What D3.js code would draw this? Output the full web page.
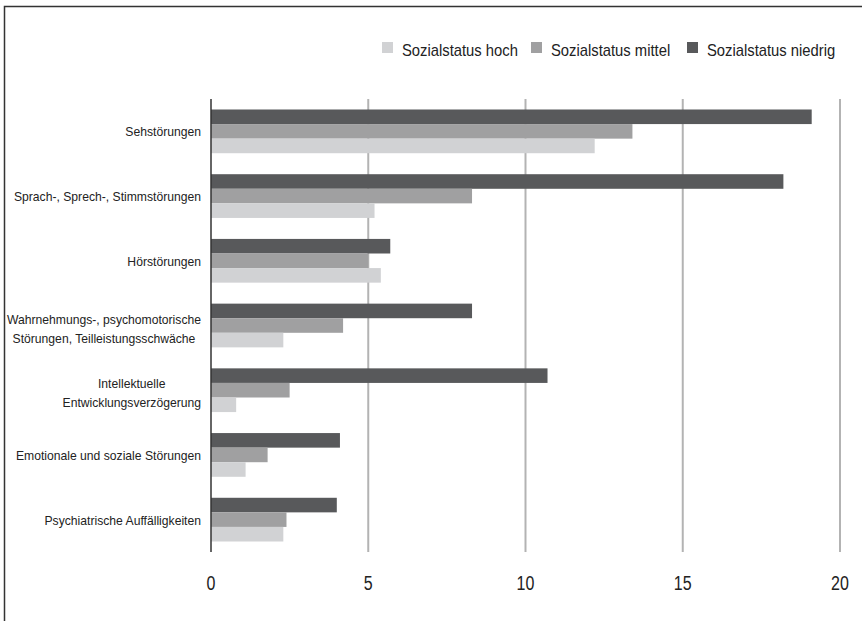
<!DOCTYPE html>
<html>
<head>
<meta charset="utf-8">
<script src="https://cdn.jsdelivr.net/npm/d3@7"></script>
<style>
body { margin: 0; background: #fff; }
text { font-family: "Liberation Sans", Arial, sans-serif; fill: #222; }
</style>
</head>
<body>
<script>
// Werte (Prozent)
var categories = [
    ["Sehstörungen"],
    ["Sprach-, Sprech-, Stimmstörungen"],
    ["Hörstörungen"],
    ["Wahrnehmungs-, psychomotorische", "Störungen, Teilleistungsschwäche"],
    ["Intellektuelle", "Entwicklungsverzögerung"],
    ["Emotionale und soziale Störungen"],
    ["Psychiatrische Auffälligkeiten"]
];
var series = ["Sozialstatus niedrig", "Sozialstatus mittel", "Sozialstatus hoch"];
var niedrig = [19.1, 18.2, 5.7, 8.3, 10.7, 4.1, 4.0];
var mittel  = [13.4, 8.3, 5.0, 4.2, 2.5, 1.8, 2.4];
var hoch    = [12.2, 5.2, 5.4, 2.3, 0.8, 1.1, 2.3];
var ticks = [0, 5, 10, 15, 20];
var legendOrder = ["Sozialstatus hoch", "Sozialstatus mittel", "Sozialstatus niedrig"];

var width = 862, height = 621;
var svg = d3.select("body").append("svg")
    .attr("width", width)
    .attr("height", height);

// schmale Schrift nachbilden: Text horizontal stauchen
function narrow(sel, f) {
    sel.each(function(){
        var w = this.getComputedTextLength();
        d3.select(this).attr("textLength", w * f).attr("lengthAdjust", "spacingAndGlyphs");
    });
}

var colors = d3.scaleOrdinal()
    .domain(series)
    .range(["#58595b", "#a0a0a1", "#d1d2d4"]);

var x = d3.scaleLinear().domain([0, 20]).range([211, 840]);
var y = d3.scaleBand().domain(d3.range(categories.length)).range([99, 552]);
var inner = d3.scaleBand().domain(series).range([0, y.bandwidth()]).paddingOuter(0.72).paddingInner(0);

// Rahmen (links und oben)
svg.append("path")
    .attr("d", "M4.5,621V6.5H862")
    .style("fill", "none")
    .style("stroke", "#333")
    .style("stroke-width", 1.5);

// Gitterlinien
svg.selectAll("line.grid")
    .data(ticks.slice(1))
    .enter()
    .append("line")
    .attr("class", "grid")
    .attr("x1", function(d){ return x(d); })
    .attr("x2", function(d){ return x(d); })
    .attr("y1", 99)
    .attr("y2", 552)
    .style("stroke", "#b3b3b3")
    .style("stroke-width", 2);

var table = categories.map(function(c, i) {
    return { i: i, values: [niedrig[i], mittel[i], hoch[i]] };
});

var groups = svg.selectAll("g.cat")
    .data(table)
    .enter()
    .append("g")
    .attr("class", "cat")
    .attr("transform", function(d){ return "translate(0," + y(d.i) + ")"; });

groups.selectAll("rect")
    .data(function(d){ return d.values.map(function(v, k){ return { s: series[k], v: v }; }); })
    .enter()
    .append("rect")
    .attr("x", x(0))
    .attr("y", function(d){ return inner(d.s); })
    .attr("width", function(d){ return x(d.v) - x(0); })
    .attr("height", inner.bandwidth())
    .style("fill", function(d){ return colors(d.s); });

// Null-Achse
svg.append("line")
    .attr("x1", x(0)).attr("x2", x(0))
    .attr("y1", 99).attr("y2", 552)
    .style("stroke", "#333")
    .style("stroke-width", 1.5);

// Achsenbeschriftung
var tickText = svg.selectAll("text.tick")
    .data(ticks)
    .enter()
    .append("text")
    .attr("class", "tick")
    .attr("x", function(d){ return x(d); })
    .attr("y", 590)
    .attr("text-anchor", "middle")
    .style("font-size", "20px")
    .text(function(d){ return d; });
narrow(tickText, 0.8);

// Kategorien
var labelRight = 201;
table.forEach(function(d) {
    var lines = categories[d.i];
    var cy = y(d.i) + y.bandwidth() / 2;
    var texts = svg.append("g").selectAll("text")
        .data(lines)
        .enter()
        .append("text")
        .attr("y", function(t, j){
            return lines.length === 1 ? cy + 5 : cy + (j - 0.5) * 19 + 7.5;
        })
        .attr("text-anchor", "middle")
        .style("font-size", "13.5px")
        .text(function(t){ return t; });
    narrow(texts, 0.9);
    var maxW = 0;
    texts.each(function(){ maxW = Math.max(maxW, +d3.select(this).attr("textLength")); });
    texts.attr("x", labelRight - maxW / 2);
});

// Legende
var legendX = [382, 531, 687];
var legend = svg.selectAll("g.legend")
    .data(legendOrder)
    .enter()
    .append("g")
    .attr("class", "legend")
    .attr("transform", function(d, i){ return "translate(" + legendX[i] + ",42)"; });
legend.append("rect")
    .attr("width", 11)
    .attr("height", 11)
    .style("fill", function(d){ return colors(d); });
var legendText = legend.append("text")
    .attr("x", 20)
    .attr("y", 14)
    .style("font-size", "17px")
    .text(function(d){ return d; });
narrow(legendText, 0.87);
</script>
</body>
</html>
